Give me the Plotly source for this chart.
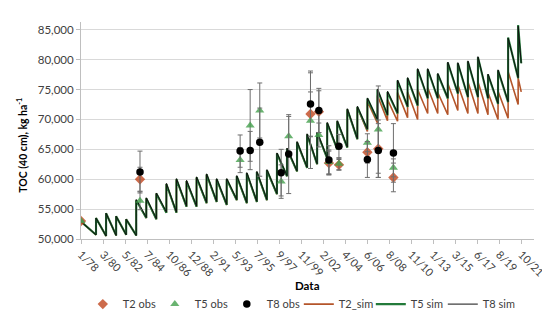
import plotly.graph_objects as go
import pandas as pd

# ---------------- data ----------------
# x-axis tick labels (Excel date axis, major unit 800 days from 1/78)
tick_labels = ['1/78', '3/80', '5/82', '7/84', '10/86', '12/88', '2/91', '5/93', '7/95',
               '9/97', '11/99', '2/02', '4/04', '6/06', '8/08', '11/10', '1/13', '3/15',
               '6/17', '8/19', '10/21']
tick_dates = pd.date_range('1978-01-01', periods=len(tick_labels), freq='800D')

# simulated TOC: yearly jump (input) then decay; peak = value right after jump,
# trough = value right before the jump of that year
sim_start = '1978-01-01'
sim_end = '2021-10-21'
jump_years = list(range(1979, 2022))
jump_dates = [f'{y}-07-01' for y in jump_years]

t5_start, t5_end = 52900, 79400
t5_peak = [53500, 54300, 53800, 53300, 56500, 56800, 57600, 59200, 60000, 59700,
           60300, 60800, 60000, 60000, 60500, 61000, 61200, 61500, 64300, 65100,
           66200, 67500, 67800, 69400, 69700, 71700, 72100, 73500, 75000, 74600,
           76500, 76900, 78400, 78400, 77600, 79500, 79400, 79700, 80400, 77500,
           78200, 83700, 85800]
t5_trough = [50700, 50500, 50600, 50700, 50600, 53500, 53300, 54400, 54400, 55400,
             55400, 56000, 56200, 55700, 56500, 56000, 56200, 56500, 57500, 60500,
             61300, 61900, 62500, 63500, 65000, 65300, 66700, 68300, 69900, 70700,
             71000, 72100, 72300, 73500, 73500, 73500, 74300, 73700, 73700, 73500,
             72600, 72900, 76900]

t8_start, t8_end = 52900, 79400
t8_peak = [53500, 54300, 53800, 53300, 56600, 56900, 57700, 59300, 60100, 59800,
           60400, 60900, 60100, 60100, 60600, 61100, 61300, 61600, 64400, 65200,
           66300, 67600, 67900, 69500, 69800, 71800, 72200, 73600, 75100, 74700,
           76600, 77000, 78500, 78500, 77700, 79600, 79500, 79800, 80500, 77600,
           78300, 83600, 85600]
t8_trough = [50700, 50500, 50600, 50700, 50600, 53600, 53400, 54500, 54500, 55500,
             55500, 56100, 56300, 55800, 56600, 56100, 56300, 56600, 57600, 60600,
             61400, 62000, 62600, 63600, 65100, 65400, 66800, 68400, 70000, 70800,
             71100, 72200, 72400, 73600, 73600, 73600, 74400, 73800, 73800, 73600,
             72700, 73000, 77000]

t2_start, t2_end = 52900, 74600
t2_peak = [53500, 54300, 53800, 53300, 56500, 56800, 57600, 59200, 60000, 59700,
           60300, 60800, 60000, 60000, 60500, 61000, 61200, 61500, 64300, 65100,
           66200, 67500, 67800, 69400, 69700, 71700, 72000, 73000, 74000, 73300,
           74500, 74600, 75000, 75300, 74500, 76000, 75800, 76300, 76300, 74500,
           74700, 78000, 76900]
t2_trough = [50700, 50500, 50600, 50700, 50600, 53500, 53300, 54400, 54400, 55400,
             55400, 56000, 56200, 55700, 56500, 56000, 56200, 56500, 57500, 60500,
             61300, 61900, 62500, 63500, 65000, 65300, 66700, 68000, 69400, 69800,
             69700, 70300, 70000, 71000, 71000, 70800, 71500, 71000, 71000, 70800,
             70000, 70200, 72500]

# observations (mean +/- error)
obs_dates = ['1978-01-01', '1983-11-15', '1993-11-01', '1994-11-01', '1995-10-15',
             '1997-12-01', '1998-09-01', '2000-11-01', '2001-09-01', '2002-09-01',
             '2003-09-01', '2006-07-01', '2007-08-01', '2009-02-01']
t2_obs = [53000, 60000, None, None, None, None, None, 70900, 71300, 62700, 62400, 64500, 65100, 60300]
t2_err = [0, 2000, 0, 0, 0, 0, 0, 3700, 3500, 2000, 900, 1800, 4800, 2400]
t5_obs = [53000, 56400, 63200, 69000, 71500, 59600, 67200, 69800, 67400, 62900, 62600, 66100, 68300, 61900]
t5_err = [0, 1500, 2100, 6000, 4600, 2800, 3300, 8000, 2000, 2000, 1000, 1500, 7300, 1500]
t8_obs = [None, 61200, 64700, 64800, 66200, 61100, 64200, 72600, 71500, 63200, 65500, 63300, 64800, 64400]
t8_err = [0, 3500, 2700, 3200, 5700, 3900, 6600, 5500, 3700, 2400, 2000, 3000, 4500, 4900]

# ---------------- styling ----------------
FONT = 'Lato'
TXT = '#404040'
C_T2 = '#C0461E'
C_T2_LINE = '#B4552A'
C_T5 = '#44A04C'
C_T5_LINE = '#237A3A'
ERR = '#6E6E6E'


def sawtooth(start_val, peaks, troughs, end_val):
    xs, ys = [sim_start], [start_val]
    for d, tr, pk in zip(jump_dates, troughs, peaks):
        xs += [d, d]
        ys += [tr, pk]
    xs.append(sim_end)
    ys.append(end_val)
    return xs, ys


fig = go.Figure()

x2, y2 = sawtooth(t2_start, t2_peak, t2_trough, t2_end)
x5, y5 = sawtooth(t5_start, t5_peak, t5_trough, t5_end)
x8, y8 = sawtooth(t8_start, t8_peak, t8_trough, t8_end)

fig.add_trace(go.Scatter(x=x2, y=y2, mode='lines', name='T2_sim', legendrank=4,
                         line=dict(color=C_T2_LINE, width=1.6)))
fig.add_trace(go.Scatter(x=x5, y=y5, mode='lines', name='T5 sim', legendrank=5,
                         line=dict(color=C_T5_LINE, width=2.1)))
fig.add_trace(go.Scatter(x=x8, y=y8, mode='lines', name='T8 sim', legendrank=6,
                         line=dict(color='#101010', width=1.0)))

err_style = dict(type='data', thickness=1, width=2.5, color=ERR)
fig.add_trace(go.Scatter(x=obs_dates, y=t2_obs, mode='markers', name='T2 obs', legendrank=1,
                         marker=dict(symbol='diamond', size=8, color=C_T2, opacity=0.8),
                         error_y=dict(array=t2_err, **err_style)))
fig.add_trace(go.Scatter(x=obs_dates, y=t5_obs, mode='markers', name='T5 obs', legendrank=2,
                         marker=dict(symbol='triangle-up', size=8, color=C_T5, opacity=0.8),
                         error_y=dict(array=t5_err, **err_style)))
fig.add_trace(go.Scatter(x=obs_dates, y=t8_obs, mode='markers', name='T8 obs', legendrank=3,
                         marker=dict(symbol='circle', size=7.5, color='#000000'),
                         error_y=dict(array=t8_err, **err_style)))

fig.update_layout(
    width=550, height=323,
    margin=dict(l=73, r=16, t=14, b=84),
    paper_bgcolor='white', plot_bgcolor='white',
    font=dict(family=FONT, size=11.5, color=TXT),
    showlegend=True,
    legend=dict(orientation='h', x=0.004, xanchor='left', y=-0.30, yanchor='middle',
                font=dict(family=FONT, size=11, color=TXT),
                entrywidth=27, itemwidth=30, tracegroupgap=0),
    xaxis=dict(type='date', range=['1978-01-01', '2023-01-28'],
               tickmode='array', tickvals=tick_dates, ticktext=tick_labels,
               tickangle=45, tickfont=dict(family=FONT, size=11, color=TXT),
               showgrid=False, zeroline=False,
               showline=True, linecolor='#BFBFBF', linewidth=1,
               ticks='outside', ticklen=4, tickcolor='#BFBFBF'),
    yaxis=dict(range=[50000, 86300], tickmode='array',
               tickvals=[50000, 55000, 60000, 65000, 70000, 75000, 80000, 85000],
               tickformat=',', tickfont=dict(family=FONT, size=11.5, color=TXT),
               showgrid=True, gridcolor='#D9D9D9', gridwidth=1, zeroline=False,
               showline=True, linecolor='#BFBFBF', linewidth=1,
               ticks='outside', ticklen=4, tickcolor='#BFBFBF'),
    annotations=[
        dict(text='<b>TOC (40 cm), kg ha<sup>-1</sup></b>', textangle=-90,
             xref='paper', yref='paper', x=-0.130, y=0.43, xanchor='center', yanchor='middle',
             showarrow=False, font=dict(family=FONT, size=10.5, color='#000000')),
        dict(text='<b>Data</b>', xref='paper', yref='paper', x=0.5, y=-0.213,
             xanchor='center', yanchor='middle', showarrow=False,
             font=dict(family=FONT, size=11.5, color='#000000')),
    ],
)

fig.write_html('out.html')
